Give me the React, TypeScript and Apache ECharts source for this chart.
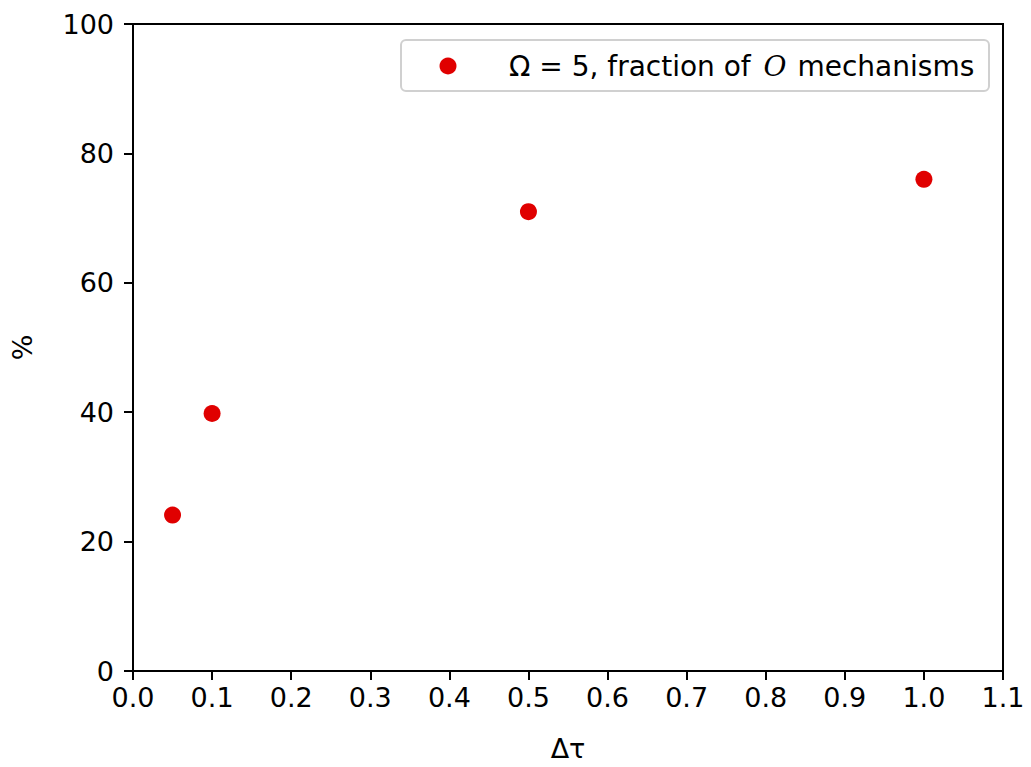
import React, { useEffect, useRef } from "react";
import * as echarts from "echarts";

const xValues = [0.05, 0.1, 0.5, 1.0];
const yValues = [24.1, 39.8, 71.0, 76.0];
const seriesName = "Ω = 5, fraction of 𝒪 mechanisms";
const xLabel = "Δτ";
const yLabel = "%";

const FONT = "DejaVu Sans";
const FS = 27;
const LFS = 28;

export default function App() {
  const ref = useRef<HTMLDivElement>(null);
  useEffect(() => {
    if (!ref.current) return;
    const chart = echarts.init(ref.current, null, { renderer: "svg" });
    const data = xValues.map((x, i) => [x, yValues[i]]);
    chart.setOption({
      animation: false,
      backgroundColor: "#ffffff",
      textStyle: { fontFamily: FONT },
      grid: {
        left: 133,
        right: 28,
        top: 24,
        bottom: 93,
        show: true,
        borderColor: "#000",
        borderWidth: 2,
        containLabel: false,
      },
      xAxis: {
        type: "value",
        min: 0,
        max: 1.1,
        interval: 0.1,
        name: xLabel,
        nameLocation: "middle",
        nameGap: 64,
        nameTextStyle: { fontSize: FS, color: "#000", fontFamily: FONT, fontStyle: "normal" },
        axisLine: { show: true, onZero: false, lineStyle: { color: "#000", width: 2 } },
        axisTick: { show: true, length: 9, lineStyle: { color: "#000", width: 2 } },
        axisLabel: {
          fontSize: FS,
          color: "#000",
          margin: 13,
          fontFamily: FONT,
          formatter: (v: number) => v.toFixed(1),
        },
        splitLine: { show: false },
      },
      yAxis: {
        type: "value",
        min: 0,
        max: 100,
        interval: 20,
        name: yLabel,
        nameLocation: "middle",
        nameGap: 97,
        nameRotate: 90,
        nameTextStyle: { fontSize: FS, color: "#000", fontFamily: FONT },
        axisLine: { show: true, onZero: false, lineStyle: { color: "#000", width: 2 } },
        axisTick: { show: true, length: 9, lineStyle: { color: "#000", width: 2 } },
        axisLabel: { fontSize: FS, color: "#000", margin: 19, fontFamily: FONT },
        splitLine: { show: false },
      },
      series: [
        {
          type: "scatter",
          name: seriesName,
          data,
          symbol: "circle",
          symbolSize: 17,
          itemStyle: { color: "#e00000", opacity: 1 },
        },
      ],
      graphic: [
        {
          type: "group",
          left: 400,
          top: 39,
          children: [
            {
              type: "rect",
              shape: { x: 0, y: 0, width: 588, height: 51, r: 5 },
              style: { fill: "#ffffff", stroke: "#d0d0d0", lineWidth: 2 },
            },
            {
              type: "circle",
              shape: { cx: 47, cy: 26, r: 8.5 },
              style: { fill: "#e00000" },
            },
            {
              type: "text",
              x: 108,
              y: 26,
              style: {
                text: "{a|Ω = 5, fraction of }{o|O}{a| mechanisms}",
                verticalAlign: "middle",
                align: "left",
                rich: {
                  a: { fontSize: LFS, fontFamily: FONT, fill: "#000" },
                  o: { fontSize: LFS, fontFamily: "DejaVu Serif", fontStyle: "italic", fill: "#000", padding: [0, 2, 0, 4] },
                },
              },
            },
          ],
        },
      ],
    });
    return () => chart.dispose();
  }, []);
  return (
    <div
      ref={ref}
      style={{ position: "fixed", left: 0, top: 0, width: "100vw", height: "100vh" }}
    />
  );
}
